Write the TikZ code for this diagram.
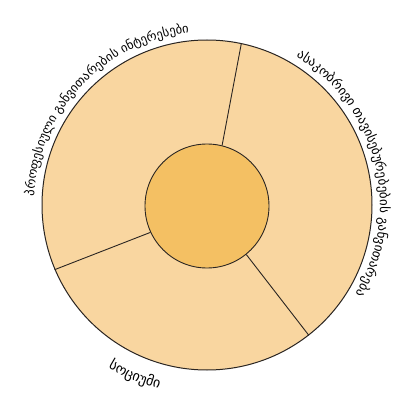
\documentclass[tikz,border=0pt]{standalone}
\usepackage{fontspec}
\newfontfamily\geofont{DejaVu Sans}
\usetikzlibrary{decorations.text,calc}
\definecolor{ringfill}{HTML}{F9D6A0}
\definecolor{corefill}{HTML}{F4C063}
\definecolor{edgecol}{HTML}{2A2522}
\tikzset{
  ring/.style={circle,draw=edgecol,line width=1pt,fill=ringfill,inner sep=0pt,minimum size=330pt},
  core/.style={circle,draw=edgecol,line width=0.9pt,fill=corefill,inner sep=0pt,minimum size=124pt},
  divider/.style={draw=edgecol,line width=0.9pt},
  arctext/.style={decorate,decoration={text along path,text align=center,text={#1}}}
}
\begin{document}
\begin{tikzpicture}[x=1pt,y=1pt]
\useasboundingbox (0,0) rectangle (400,392);
\coordinate (c) at (207,187);
\node[ring] (outer) at (c) {};
\node[core] (inner) at (207,186) {};
\draw[divider] (inner.76) -- (outer.78);
\draw[divider] (inner.-51) -- (outer.-52);
\draw[divider] (inner.205) -- (outer.203);
\path[arctext={|\geofont\fontsize{12.5}{14}\selectfont|პროფესიული განვითარების ინტერესები}]
  ($(c)+(202:173)$) arc[start angle=202,end angle=71,radius=173];
\path[arctext={|\geofont\fontsize{13}{15}\selectfont|ასაკობრივი თავისებურებების განვითარება}]
  ($(c)+(80:173)$) arc[start angle=80,end angle=-52,radius=173];
\path[arctext={|\geofont\fontsize{14}{16}\selectfont|სოციუმი}]
  ($(c)+(226:190)$) arc[start angle=226,end angle=268,radius=190];
\end{tikzpicture}
\end{document}
